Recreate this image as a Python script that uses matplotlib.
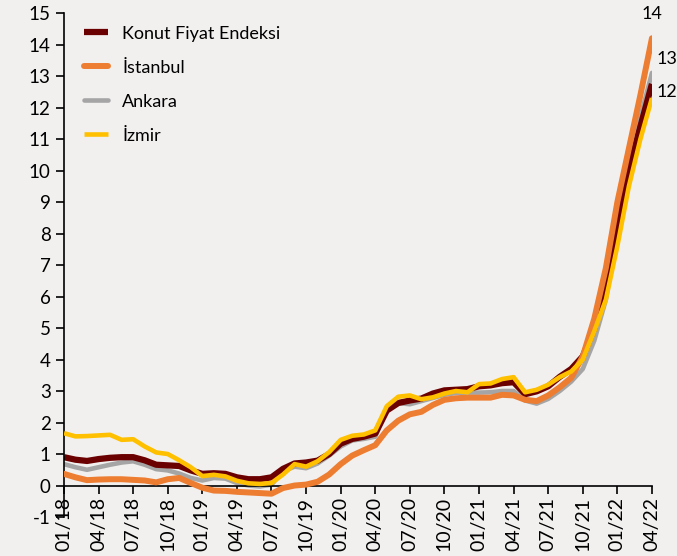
import matplotlib.pyplot as plt

# aylik seriler, 01/18 - 04/22
kfe = [0.90, 0.82, 0.78, 0.84, 0.88, 0.90, 0.90, 0.80, 0.66, 0.64, 0.62, 0.48,
       0.37, 0.39, 0.37, 0.26, 0.20, 0.20, 0.26, 0.53, 0.70, 0.73, 0.79, 1.00,
       1.33, 1.48, 1.55, 1.65, 2.38, 2.62, 2.70, 2.76, 2.92, 3.02, 3.04, 3.06,
       3.15, 3.18, 3.25, 3.28, 2.90, 2.99, 3.15, 3.45, 3.70, 4.10, 5.00, 6.30,
       8.20, 10.0, 11.4, 12.75]
istanbul = [0.37, 0.26, 0.17, 0.19, 0.20, 0.20, 0.18, 0.16, 0.10, 0.20, 0.24, 0.08,
            -0.07, -0.16, -0.17, -0.20, -0.22, -0.24, -0.26, -0.08, 0.0, 0.03, 0.12, 0.35,
            0.68, 0.95, 1.12, 1.28, 1.75, 2.06, 2.26, 2.34, 2.56, 2.72, 2.77, 2.79,
            2.79, 2.79, 2.88, 2.86, 2.72, 2.68, 2.86, 3.12, 3.42, 4.10, 5.30, 6.90,
            9.00, 10.7, 12.4, 14.2]
ankara = [0.68, 0.58, 0.50, 0.58, 0.66, 0.73, 0.77, 0.66, 0.52, 0.48, 0.38, 0.24,
          0.16, 0.24, 0.22, 0.08, 0.00, -0.03, 0.03, 0.45, 0.60, 0.55, 0.70, 0.95,
          1.24, 1.43, 1.48, 1.55, 2.45, 2.62, 2.58, 2.68, 2.78, 2.88, 2.94, 2.95,
          2.95, 2.96, 3.00, 3.00, 2.70, 2.60, 2.75, 3.00, 3.30, 3.70, 4.60, 5.90,
          8.00, 10.0, 11.7, 13.1]
izmir = [1.66, 1.56, 1.57, 1.59, 1.61, 1.45, 1.47, 1.24, 1.05, 1.00, 0.80, 0.58,
         0.30, 0.34, 0.29, 0.15, 0.07, 0.05, 0.08, 0.35, 0.68, 0.60, 0.77, 1.06,
         1.45, 1.58, 1.62, 1.75, 2.52, 2.82, 2.86, 2.74, 2.80, 2.92, 3.00, 2.96,
         3.22, 3.24, 3.38, 3.44, 2.96, 3.04, 3.20, 3.44, 3.62, 4.00, 4.90, 5.90,
         7.60, 9.50, 11.0, 12.3]

tick_labels = ['01/18', '04/18', '07/18', '10/18', '01/19', '04/19', '07/19', '10/19',
               '01/20', '04/20', '07/20', '10/20', '01/21', '04/21', '07/21', '10/21',
               '01/22', '04/22']

bg = '#f2f0ef'
plt.rcParams['font.family'] = ['Lato', 'DejaVu Sans']
plt.rcParams['axes.unicode_minus'] = False

fig = plt.figure(figsize=(6.77, 5.56), dpi=100, facecolor=bg)
ax = fig.add_axes([0.0945, 0.0701, 0.8685, 0.9065])
ax.set_facecolor(bg)
ax.spines['top'].set_visible(False)
ax.spines['right'].set_visible(False)
ax.spines['bottom'].set_position(('data', 0))

x = list(range(len(kfe)))
ax.plot(x, kfe, color='#6b0000', lw=4.5, label='Konut Fiyat Endeksi', zorder=2, solid_capstyle='butt')
ax.plot(x, istanbul, color='#ed7d31', lw=4.3, label='İstanbul', zorder=3, solid_capstyle='round')
ax.plot(x, ankara, color='#a5a5a5', lw=3.3, label='Ankara', zorder=1, solid_capstyle='round')
ax.plot(x, izmir, color='#ffc000', lw=3.3, label='İzmir', zorder=4, solid_capstyle='butt')

ax.set_xlim(0, 51)
ax.set_ylim(-1, 15)
ax.set_yticks(range(-1, 16))
ax.set_xticks(range(0, 52, 3))
ax.set_xticklabels(tick_labels)

ax.tick_params(axis='both', labelsize=13.5, colors='black', direction='out', length=6, width=1.2)
ax.tick_params(axis='x', labelrotation=90, labelsize=14, pad=2)
for s in ['left', 'bottom']:
    ax.spines[s].set_linewidth(1.2)

# son deger etiketleri
ax.text(51, 14.98, '14', ha='center', va='center', fontsize=13, clip_on=False)
ax.text(51.4, 13.55, '13', ha='left', va='center', fontsize=13, clip_on=False)
ax.text(51.4, 12.5, '12', ha='left', va='center', fontsize=13, clip_on=False)

ax.legend(loc='upper left', bbox_to_anchor=(0.013, 1.0), frameon=False, fontsize=13,
          handlelength=1.3, handletextpad=0.8, labelspacing=1.0, borderpad=0.2)

fig.savefig('out.png', dpi=100, facecolor=bg)
